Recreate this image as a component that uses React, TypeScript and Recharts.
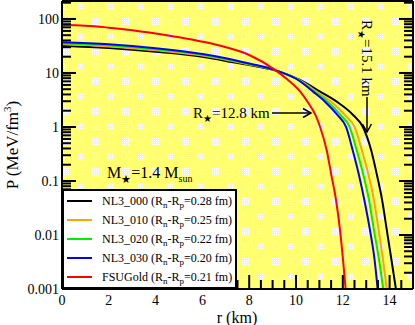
import { LineChart, Line, XAxis, YAxis, CartesianGrid } from "recharts";

const FONT = "'Liberation Serif', 'Times New Roman', serif";

// legend
const NAMES = ["NL3_000", "NL3_010", "NL3_020", "NL3_030", "FSUGold"];
const SKIN = ["0.28", "0.25", "0.22", "0.20", "0.21"];
const COLORS = ["#000000", "#ffa500", "#00ee00", "#0000ff", "#ff0000"];

// r (km) and P (MeV/fm^3)
const R_000 = [0, 2, 4, 6, 7, 8, 9.02, 10.17, 11.03, 11.74, 12.44, 12.86, 13.21, 13.46, 13.68, 13.88, 14.08, 14.27];
const P_000 = [32, 29, 24.8, 20, 16.7, 14.0, 11.4, 7.41, 4.51, 2.94, 1.67, 1.0, 0.375, 0.129, 0.0445, 0.0124, 0.00344, 0.001];

const R_010 = [0, 2, 4, 6, 7, 8, 9.06, 10.13, 10.88, 11.5, 12.09, 12.5, 12.81, 13.1, 13.33, 13.53, 13.72, 13.88];
const P_010 = [34, 31, 26.3, 21, 17.6, 14.4, 11.4, 7.41, 4.51, 2.94, 1.67, 1.0, 0.375, 0.129, 0.0445, 0.0124, 0.00344, 0.001];

const R_020 = [0, 2, 4, 6, 7, 8, 9.06, 10.11, 10.79, 11.35, 11.9, 12.29, 12.59, 12.88, 13.12, 13.33, 13.55, 13.73];
const P_020 = [35.5, 32.5, 27.5, 21.8, 18.2, 14.7, 11.4, 7.41, 4.51, 2.94, 1.67, 1.0, 0.375, 0.129, 0.0445, 0.0124, 0.00344, 0.001];

const R_030 = [0, 2, 4, 6, 7, 8, 9.08, 10.09, 10.73, 11.24, 11.77, 12.14, 12.42, 12.69, 12.92, 13.16, 13.36, 13.49];
const P_030 = [37, 34, 28.8, 22.5, 18.8, 15.0, 11.4, 7.41, 4.51, 2.94, 1.67, 1.0, 0.375, 0.129, 0.0445, 0.0124, 0.00344, 0.001];

const R_FSU = [0, 1, 2, 3, 4, 5, 6, 7, 8, 9.1, 9.66, 10.18, 10.49, 10.83, 11.03, 11.31, 11.51, 11.71, 11.88, 12.01, 12.12];
const P_FSU = [77, 75, 69, 62, 54, 46, 38, 30, 21.5, 11.4, 7.41, 4.51, 2.94, 1.67, 1.0, 0.375, 0.129, 0.0445, 0.0124, 0.00344, 0.001];

const RADII = [R_000, R_010, R_020, R_030, R_FSU];
const PRESSURES = [P_000, P_010, P_020, P_030, P_FSU];

// axes
const X_LABELS = [0, 2, 4, 6, 8, 10, 12, 14];
const X_TICKS = Array.from({ length: 31 }, (_, i) => i * 0.5);
const Y_LABELS = [0.001, 0.01, 0.1, 1, 10, 100];
const Y_TICKS = Y_LABELS.flatMap((d) =>
  [1, 2, 3, 4, 5, 6, 7, 8, 9].map((k) => Number((k * d).toPrecision(3)))
).filter((v) => v <= 200);

const series = NAMES.map((name, i) => ({
  name,
  color: COLORS[i],
  data: RADII[i].map((r, j) => ({ r, p: PRESSURES[i][j] })),
}));

const YTick = (props: any) => {
  const { x, y, payload, side } = props;
  const major = Y_LABELS.includes(payload.value);
  const len = major ? 14 : 9;
  const dir = side === "left" ? 1 : -1;
  return (
    <g>
      <line x1={x} x2={x + dir * len} y1={y} y2={y} stroke="#000" strokeWidth={2} />
      {side === "left" && major && (
        <text x={x - 3} y={y + 5} textAnchor="end" fontSize={14} fontFamily={FONT} fill="#000">
          {payload.value}
        </text>
      )}
    </g>
  );
};

const XTick = (props: any) => {
  const { x, y, payload, side } = props;
  const major = X_LABELS.includes(payload.value);
  const len = major ? 14 : 9;
  const dir = side === "bottom" ? -1 : 1;
  return (
    <g>
      <line x1={x} x2={x} y1={y} y2={y + dir * len} stroke="#000" strokeWidth={2} />
      {side === "bottom" && major && (
        <text x={x} y={y + 16} textAnchor="middle" fontSize={14} fontFamily={FONT} fill="#000">
          {payload.value}
        </text>
      )}
    </g>
  );
};

const Overlay = () => (
  <svg
    width={415}
    height={325}
    style={{ position: "absolute", left: 0, top: 0, pointerEvents: "none" }}
    fontFamily={FONT}
  >
    {/* axis titles */}
    <text x={237} y={323} textAnchor="middle" fontSize={16}>r (km)</text>
    <text transform="translate(18,145) rotate(-90)" textAnchor="middle" fontSize={17}>
      P (MeV/fm<tspan dy={-7} fontSize={11}>3</tspan>
      <tspan dy={7}>)</tspan>
    </text>

    {/* annotations */}
    <text x={107} y={178} fontSize={16}>
      M<tspan dy={5} fontSize={11}>★</tspan>
      <tspan dy={-5}>=1.4 M</tspan>
      <tspan dy={4} fontSize={10}>sun</tspan>
    </text>
    <text x={193} y={118} fontSize={15}>
      R<tspan dy={4} fontSize={10}>★</tspan>
      <tspan dy={-4}>=12.8 km</tspan>
    </text>
    <line x1={272} x2={311} y1={113} y2={113} stroke="#000" strokeWidth={1.5} />
    <polyline points="303,108.5 311,113 303,117.5" fill="none" stroke="#000" strokeWidth={1.5} />
    <text transform="translate(362,20) rotate(90)" fontSize={15}>
      R<tspan dy={4} fontSize={10}>★</tspan>
      <tspan dy={-4}>=15.1 km</tspan>
    </text>
    <line x1={367} x2={367} y1={97} y2={132} stroke="#000" strokeWidth={1.5} />
    <polyline points="362.5,124 367,132 371.5,124" fill="none" stroke="#000" strokeWidth={1.5} />

    {/* legend */}
    <rect x={63} y={190} width={173} height={98} fill="#fff" stroke="#000" strokeWidth={2} />
    {series.map((s, i) => {
      const cy = 201 + i * 19;
      return (
        <g key={s.name}>
          <line x1={67} x2={92} y1={cy} y2={cy} stroke={s.color} strokeWidth={2} />
          <text x={102} y={cy + 4} fontSize={12}>
            {s.name} (R<tspan dy={3} fontSize={9}>n</tspan>
            <tspan dy={-3}>-R</tspan>
            <tspan dy={3} fontSize={9}>p</tspan>
            <tspan dy={-3}>={SKIN[i]} fm)</tspan>
          </text>
        </g>
      );
    })}
  </svg>
);

export default function App() {
  return (
    <div style={{ position: "absolute", left: 0, top: 0, width: 415, height: 325, background: "#fff" }}>
      <svg width={0} height={0} style={{ position: "absolute" }}>
        <defs>
          <pattern id="dither" width={2} height={2} patternUnits="userSpaceOnUse">
            <rect width={2} height={2} fill="#ffff70" />
            <rect width={1} height={1} fill="#ffffff" />
            <rect x={1} y={1} width={1} height={1} fill="#ffffff" />
          </pattern>
          <pattern id="checks" x={2} y={3} width={15} height={15} patternUnits="userSpaceOnUse">
            <rect width={15} height={15} fill="#ffff70" />
            <rect width={7} height={7} fill="url(#dither)" />
          </pattern>
        </defs>
      </svg>
      <LineChart
        width={415}
        height={325}
        margin={{ top: 0, right: 1, bottom: 35, left: 61 }}
      >
        <CartesianGrid fill="url(#checks)" stroke="none" horizontal={false} vertical={false} />
        <XAxis
          dataKey="r"
          type="number"
          domain={[0, 15]}
          ticks={X_TICKS}
          interval={0}
          allowDataOverflow
          height={1}
          tickSize={0}
          tickMargin={0}
          tickLine={false}
          axisLine={{ stroke: "#000", strokeWidth: 2 }}
          tick={<XTick side="bottom" />}
        />
        <XAxis
          xAxisId="top"
          orientation="top"
          type="number"
          domain={[0, 15]}
          ticks={X_TICKS}
          interval={0}
          allowDataOverflow
          height={1}
          tickSize={0}
          tickMargin={0}
          tickLine={false}
          axisLine={{ stroke: "#000", strokeWidth: 2 }}
          tick={<XTick side="top" />}
        />
        <YAxis
          type="number"
          scale="log"
          domain={[0.001, 215]}
          ticks={Y_TICKS}
          interval={0}
          allowDataOverflow
          width={1}
          tickSize={0}
          tickMargin={0}
          tickLine={false}
          axisLine={{ stroke: "#000", strokeWidth: 2 }}
          tick={<YTick side="left" />}
        />
        <YAxis
          yAxisId="right"
          orientation="right"
          type="number"
          scale="log"
          domain={[0.001, 215]}
          ticks={Y_TICKS}
          interval={0}
          allowDataOverflow
          width={1}
          tickSize={0}
          tickMargin={0}
          tickLine={false}
          axisLine={{ stroke: "#000", strokeWidth: 2 }}
          tick={<YTick side="right" />}
        />
        {series.map((s) => (
          <Line
            key={s.name}
            data={s.data}
            dataKey="p"
            type="monotone"
            stroke={s.color}
            strokeWidth={2}
            dot={false}
            isAnimationActive={false}
          />
        ))}
      </LineChart>
      <Overlay />
    </div>
  );
}
